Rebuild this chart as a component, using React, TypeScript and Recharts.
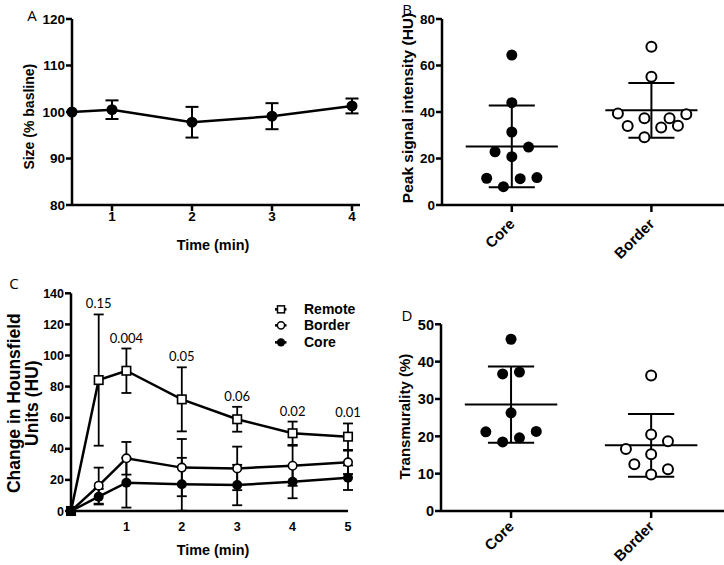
import React from 'react';
import {
  ComposedChart,
  Line,
  Scatter,
  XAxis,
  YAxis,
  ErrorBar,
  ReferenceLine,
  LabelList,
  Legend,
} from 'recharts';

// ---------- Panel A ----------
const timeA = [0.5, 1, 2, 3, 4];
const sizeA = [100, 100.5, 97.8, 99.1, 101.3];
const sizeSdA = [0, 2.0, 3.3, 2.8, 1.6];
const xTicksA = [1, 2, 3, 4];
const yTicksA = [80, 90, 100, 110, 120];

// ---------- Panel B ----------
const groups = ['Core', 'Border'];
const peakCore = [64.5, 44, 31.4, 22.9, 20.8, 24.9, 11.5, 11.3, 11.8, 7.9];
const peakCoreJitter = [0, 0, 0, -0.12, 0, 0.12, -0.18, 0.06, 0.18, -0.06];
const peakBorder = [68.1, 55.2, 39.4, 34.0, 37.3, 29.1, 33.3, 37.3, 34.1, 39.0];
const peakBorderJitter = [0, 0, -0.24, -0.17, -0.05, -0.05, 0.07, 0.13, 0.19, 0.25];
const peakMean = [25.2, 40.7];
const peakSd = [17.6, 11.8];
const yTicksB = [0, 20, 40, 60, 80];

// ---------- Panel C ----------
const timeC = [0, 0.5, 1, 2, 3, 4, 5];
const remote = [0, 84.2, 90.2, 71.8, 59.0, 50.0, 47.8];
const remoteSd = [0, 42.2, 14.3, 20.6, 8.0, 7.5, 8.5];
const border = [0, 16.3, 33.9, 27.9, 27.4, 29.1, 31.3];
const borderSd = [0, 11.6, 10.5, 18.4, 14.0, 12.9, 7.5];
const core = [0, 9.2, 18.2, 17.2, 16.7, 18.8, 21.4];
const coreSd = [0, 5.0, 16.0, 17.0, 13.0, 10.6, 7.9];
const pLabels = ['', '0.15', '0.004', '0.05', '0.06', '0.02', '0.01'];
const xTicksC = [1, 2, 3, 4, 5];
const yTicksC = [0, 20, 40, 60, 80, 100, 120, 140];
const legendOrder = ['Remote', 'Border', 'Core'];

// ---------- Panel D ----------
const transCore = [46.0, 36.7, 37.2, 26.3, 21.2, 21.3, 18.5, 19.6];
const transCoreJitter = [0, -0.06, 0.06, 0, -0.18, 0.18, -0.06, 0.06];
const transBorder = [36.3, 20.5, 18.7, 16.6, 15.2, 12.5, 11.2, 9.8];
const transBorderJitter = [0, 0, 0.12, -0.18, 0, -0.12, 0.12, 0];
const transMean = [28.5, 17.6];
const transSd = [10.2, 8.4];
const yTicksD = [0, 10, 20, 30, 40, 50];

// ---------- derived tables ----------
const dataA = timeA.map((t, i) => ({ t, v: sizeA[i], e: sizeSdA[i] }));
const dataC = timeC.map((t, i) => ({
  t,
  remote: remote[i],
  remoteSd: remoteSd[i],
  border: border[i],
  borderSd: borderSd[i],
  core: core[i],
  coreSd: coreSd[i],
  pTop: remote[i] + remoteSd[i],
  p: pLabels[i],
}));
const toPoints = (vals: number[], jit: number[], g: number) =>
  vals.map((y, i) => ({ x: g + jit[i], y }));
const peakCorePts = toPoints(peakCore, peakCoreJitter, 0);
const peakBorderPts = toPoints(peakBorder, peakBorderJitter, 1);
const transCorePts = toPoints(transCore, transCoreJitter, 0);
const transBorderPts = toPoints(transBorder, transBorderJitter, 1);

// ---------- styles ----------
const FONT = "'Liberation Sans', Arial, sans-serif";
const LETTER_FONT = "'Open Sans', 'Liberation Sans', sans-serif";
const axisStroke = { stroke: '#000', strokeWidth: 2.5 };

const numTick = (fs: number, vertical: boolean) => (props: any) => (
  <text
    x={props.x}
    y={props.y}
    dy={vertical ? '0.36em' : '0.72em'}
    textAnchor={vertical ? 'end' : 'middle'}
    fontSize={fs}
    fontWeight="bold"
    fontFamily={FONT}
    fill="#000"
  >
    {props.payload.value}
  </text>
);

const yLabel =
  (lines: string[], cxRel: number, dyMid: number, fs: number, gap: number, letter: string, lx: number, ly: number) =>
  (props: any) => {
    const vb = props.viewBox || { x: 0, y: 0, width: 0, height: 0 };
    const cx = vb.x + cxRel;
    const cy = vb.y + vb.height / 2 + dyMid;
    return (
      <g>
        <text
          transform={`rotate(-90 ${cx} ${cy})`}
          textAnchor="middle"
          dominantBaseline="central"
          fontSize={fs}
          fontWeight="bold"
          fontFamily={FONT}
          fill="#000"
        >
          {lines.map((l, i) => (
            <tspan key={i} x={cx} y={cy + (i - (lines.length - 1) / 2) * gap}>
              {l}
            </tspan>
          ))}
        </text>
        <text x={lx} y={ly} textAnchor="middle" dominantBaseline="central" fontSize={15} fontFamily={LETTER_FONT} fill="#000">
          {letter}
        </text>
      </g>
    );
  };

const xLabel = (text: string, dx: number, dy: number, fs: number) => (props: any) => {
  const vb = props.viewBox || { x: 0, y: 0, width: 0, height: 0 };
  return (
    <text
      x={vb.x + vb.width / 2 + dx}
      y={vb.y + dy}
      textAnchor="middle"
      dominantBaseline="central"
      fontSize={fs}
      fontWeight="bold"
      fontFamily={FONT}
      fill="#000"
    >
      {text}
    </text>
  );
};

const catTick = (dy: number, fs: number) => (props: any) => {
  const { x, y, payload } = props;
  const ay = y + dy;
  return (
    <text
      x={x}
      y={ay}
      transform={`rotate(-45 ${x} ${ay})`}
      textAnchor="end"
      dominantBaseline="central"
      fontSize={fs}
      fontWeight="bold"
      fontFamily={FONT}
      fill="#000"
    >
      {groups[payload.value]}
    </text>
  );
};

const filledDot = (r: number) => (props: any) => <circle cx={props.cx} cy={props.cy} r={r} fill="#000" />;
const openDot = (r: number) => (props: any) => (
  <circle cx={props.cx} cy={props.cy} r={r} fill="#fff" stroke="#000" strokeWidth={2} />
);

const meanSdLines = (means: number[], sds: number[]) =>
  means.flatMap((m, i) => {
    const lo = m - sds[i];
    const hi = m + sds[i];
    const common = { stroke: '#000', strokeWidth: 2 };
    return [
      <ReferenceLine key={`m${i}`} segment={[{ x: i - 0.33, y: m }, { x: i + 0.33, y: m }]} {...common} />,
      <ReferenceLine key={`v${i}`} segment={[{ x: i, y: lo }, { x: i, y: hi }]} {...common} />,
      <ReferenceLine key={`h${i}`} segment={[{ x: i - 0.165, y: hi }, { x: i + 0.165, y: hi }]} {...common} />,
      <ReferenceLine key={`l${i}`} segment={[{ x: i - 0.165, y: lo }, { x: i + 0.165, y: lo }]} {...common} />,
    ];
  });

const legendMarker = (name: string) => {
  if (name === 'Remote') return <rect x={2.5} y={4.85} width={7} height={7} fill="#fff" stroke="#000" strokeWidth={1.5} />;
  if (name === 'Border') return <circle cx={6} cy={8.35} r={3.6} fill="#fff" stroke="#000" strokeWidth={1.5} />;
  return <circle cx={6} cy={8.35} r={4.2} fill="#000" />;
};

const LegendContent = (props: any) => {
  const payload = (props.payload || []).filter((p: any) => legendOrder.includes(p.value));
  payload.sort((a: any, b: any) => legendOrder.indexOf(a.value) - legendOrder.indexOf(b.value));
  return (
    <div>
      {payload.map((p: any) => (
        <div key={p.value} style={{ display: 'flex', alignItems: 'center', height: 16.7 }}>
          <svg width={29} height={16.7} style={{ display: 'block' }}>
            <line x1={0} x2={11.5} y1={8.35} y2={8.35} stroke="#000" strokeWidth={2.5} />
            {legendMarker(p.value)}
          </svg>
          <span style={{ fontFamily: FONT, fontWeight: 'bold', fontSize: 14, color: '#000', lineHeight: '16.7px' }}>
            {p.value}
          </span>
        </div>
      ))}
    </div>
  );
};

const remoteDot = (props: any) => {
  const s = 8.5;
  return (
    <rect
      key={`rd${props.index}`}
      x={props.cx - s / 2}
      y={props.cy - s / 2}
      width={s}
      height={s}
      fill={props.index === 0 ? '#000' : '#fff'}
      stroke="#000"
      strokeWidth={1.6}
    />
  );
};
const borderDot = (props: any) => (
  <circle key={`bd${props.index}`} cx={props.cx} cy={props.cy} r={4.2} fill="#fff" stroke="#000" strokeWidth={1.6} />
);
const coreDot = (props: any) => <circle key={`cd${props.index}`} cx={props.cx} cy={props.cy} r={5} fill="#000" />;
const aDot = (props: any) => <circle key={`ad${props.index}`} cx={props.cx} cy={props.cy} r={5.5} fill="#000" />;

export default function App() {
  return (
    <div style={{ position: 'absolute', left: 0, top: 0, width: 724, height: 565, background: '#fff', overflow: 'hidden' }}>
      {/* Panel A */}
      <div style={{ position: 'absolute', left: 0, top: 0 }}>
        <ComposedChart width={370} height={260} data={dataA} margin={{ top: 19, right: 10, left: 0, bottom: 0 }}>
          <XAxis
            dataKey="t"
            type="number"
            domain={[0.5, 4.1]}
            ticks={xTicksA}
            interval={0}
            height={55}
            axisLine={axisStroke}
            tickLine={axisStroke}
            tickSize={6}
            tickMargin={0}
            tick={numTick(13.5, false)}
            label={xLabel('Time (min)', -3, 40, 14.4)}
          />
          <YAxis
            type="number"
            domain={[80, 120]}
            ticks={yTicksA}
            interval={0}
            width={72}
            axisLine={axisStroke}
            tickLine={axisStroke}
            tickSize={6}
            tickMargin={1}
            tick={numTick(13.5, true)}
            label={yLabel(['Size (% basline)'], 29, 4.7, 14, 0, 'A', 32, 15)}
          />
          <Line dataKey="v" stroke="#000" strokeWidth={2.5} dot={aDot} activeDot={false} isAnimationActive={false}>
            <ErrorBar dataKey="e" width={6.5} strokeWidth={2} stroke="#000" direction="y" isAnimationActive={false} />
          </Line>
        </ComposedChart>
      </div>

      {/* Panel B */}
      <div style={{ position: 'absolute', left: 362, top: 0 }}>
        <ComposedChart width={362} height={285} margin={{ top: 19, right: 0, left: 0, bottom: 0 }}>
          <XAxis
            dataKey="x"
            type="number"
            domain={[-0.5, 1.52]}
            ticks={[0, 1]}
            interval={0}
            height={80}
            axisLine={axisStroke}
            tickLine={axisStroke}
            tickSize={7}
            tickMargin={0}
            tick={catTick(9, 15)}
          />
          <YAxis
            dataKey="y"
            type="number"
            domain={[0, 80]}
            ticks={yTicksB}
            interval={0}
            width={80}
            axisLine={axisStroke}
            tickLine={axisStroke}
            tickSize={6}
            tickMargin={1}
            tick={numTick(13.5, true)}
            label={yLabel(['Peak signal intensity (HU)'], 45, -4, 15.5, 0, 'B', 45, 9)}
          />
          {meanSdLines(peakMean, peakSd)}
          <Scatter data={peakCorePts} shape={filledDot(5.5)} isAnimationActive={false} />
          <Scatter data={peakBorderPts} shape={openDot(5)} isAnimationActive={false} />
        </ComposedChart>
      </div>

      {/* Panel C */}
      <div style={{ position: 'absolute', left: 0, top: 260 }}>
        <ComposedChart width={370} height={305} data={dataC} margin={{ top: 33.3, right: 22, left: 0, bottom: 0 }}>
          <XAxis
            dataKey="t"
            type="number"
            domain={[0, 5]}
            ticks={xTicksC}
            interval={0}
            height={54}
            axisLine={axisStroke}
            tickLine={false}
            tickSize={6}
            tickMargin={5}
            tick={numTick(12.5, false)}
            label={xLabel('Time (min)', 3.5, 39, 14.4)}
          />
          <YAxis
            type="number"
            domain={[0, 140]}
            ticks={yTicksC}
            interval={0}
            width={71}
            axisLine={axisStroke}
            tickLine={axisStroke}
            tickSize={6}
            tickMargin={1}
            tick={numTick(12.5, true)}
            label={yLabel(['Change in Hounsfield', 'Units (HU)'], 23, 1, 17.5, 18, 'C', 14, 23)}
          />
          <Legend
            layout="horizontal"
            verticalAlign="middle"
            align="center"
            content={LegendContent}
            wrapperStyle={{ left: 275, top: 40.6, width: 95 }}
          />
          <Line name="Core" dataKey="core" stroke="#000" strokeWidth={2.5} dot={coreDot} activeDot={false} isAnimationActive={false}>
            <ErrorBar dataKey="coreSd" width={5} strokeWidth={1.8} stroke="#000" direction="y" isAnimationActive={false} />
          </Line>
          <Line name="Border" dataKey="border" stroke="#000" strokeWidth={2.5} dot={borderDot} activeDot={false} isAnimationActive={false}>
            <ErrorBar dataKey="borderSd" width={5} strokeWidth={1.8} stroke="#000" direction="y" isAnimationActive={false} />
          </Line>
          <Line name="Remote" dataKey="remote" stroke="#000" strokeWidth={2.5} dot={remoteDot} activeDot={false} isAnimationActive={false}>
            <ErrorBar dataKey="remoteSd" width={5} strokeWidth={1.8} stroke="#000" direction="y" isAnimationActive={false} />
          </Line>
          <Line
            name="p"
            dataKey="pTop"
            stroke="none"
            dot={false}
            activeDot={false}
            legendType="none"
            isAnimationActive={false}
          >
            <LabelList
              dataKey="p"
              position="top"
              offset={6}
              fill="#000"
              fontSize={13}
              fontFamily="Lato, 'Open Sans', sans-serif"
            />
          </Line>
        </ComposedChart>
      </div>

      {/* Panel D */}
      <div style={{ position: 'absolute', left: 362, top: 260 }}>
        <ComposedChart width={362} height={305} margin={{ top: 64.3, right: 0, left: 0, bottom: 0 }}>
          <XAxis
            dataKey="x"
            type="number"
            domain={[-0.5, 1.52]}
            ticks={[0, 1]}
            interval={0}
            height={54}
            axisLine={axisStroke}
            tickLine={axisStroke}
            tickSize={7}
            tickMargin={0}
            tick={catTick(5.5, 15)}
          />
          <YAxis
            dataKey="y"
            type="number"
            domain={[0, 50]}
            ticks={yTicksD}
            interval={0}
            width={79}
            axisLine={axisStroke}
            tickLine={axisStroke}
            tickSize={6}
            tickMargin={1}
            tick={numTick(14.5, true)}
            label={yLabel(['Transmurality (%)'], 41.7, -1, 15, 0, 'D', 45, 55)}
          />
          {meanSdLines(transMean, transSd)}
          <Scatter data={transCorePts} shape={filledDot(5.5)} isAnimationActive={false} />
          <Scatter data={transBorderPts} shape={openDot(5)} isAnimationActive={false} />
        </ComposedChart>
      </div>
    </div>
  );
}
